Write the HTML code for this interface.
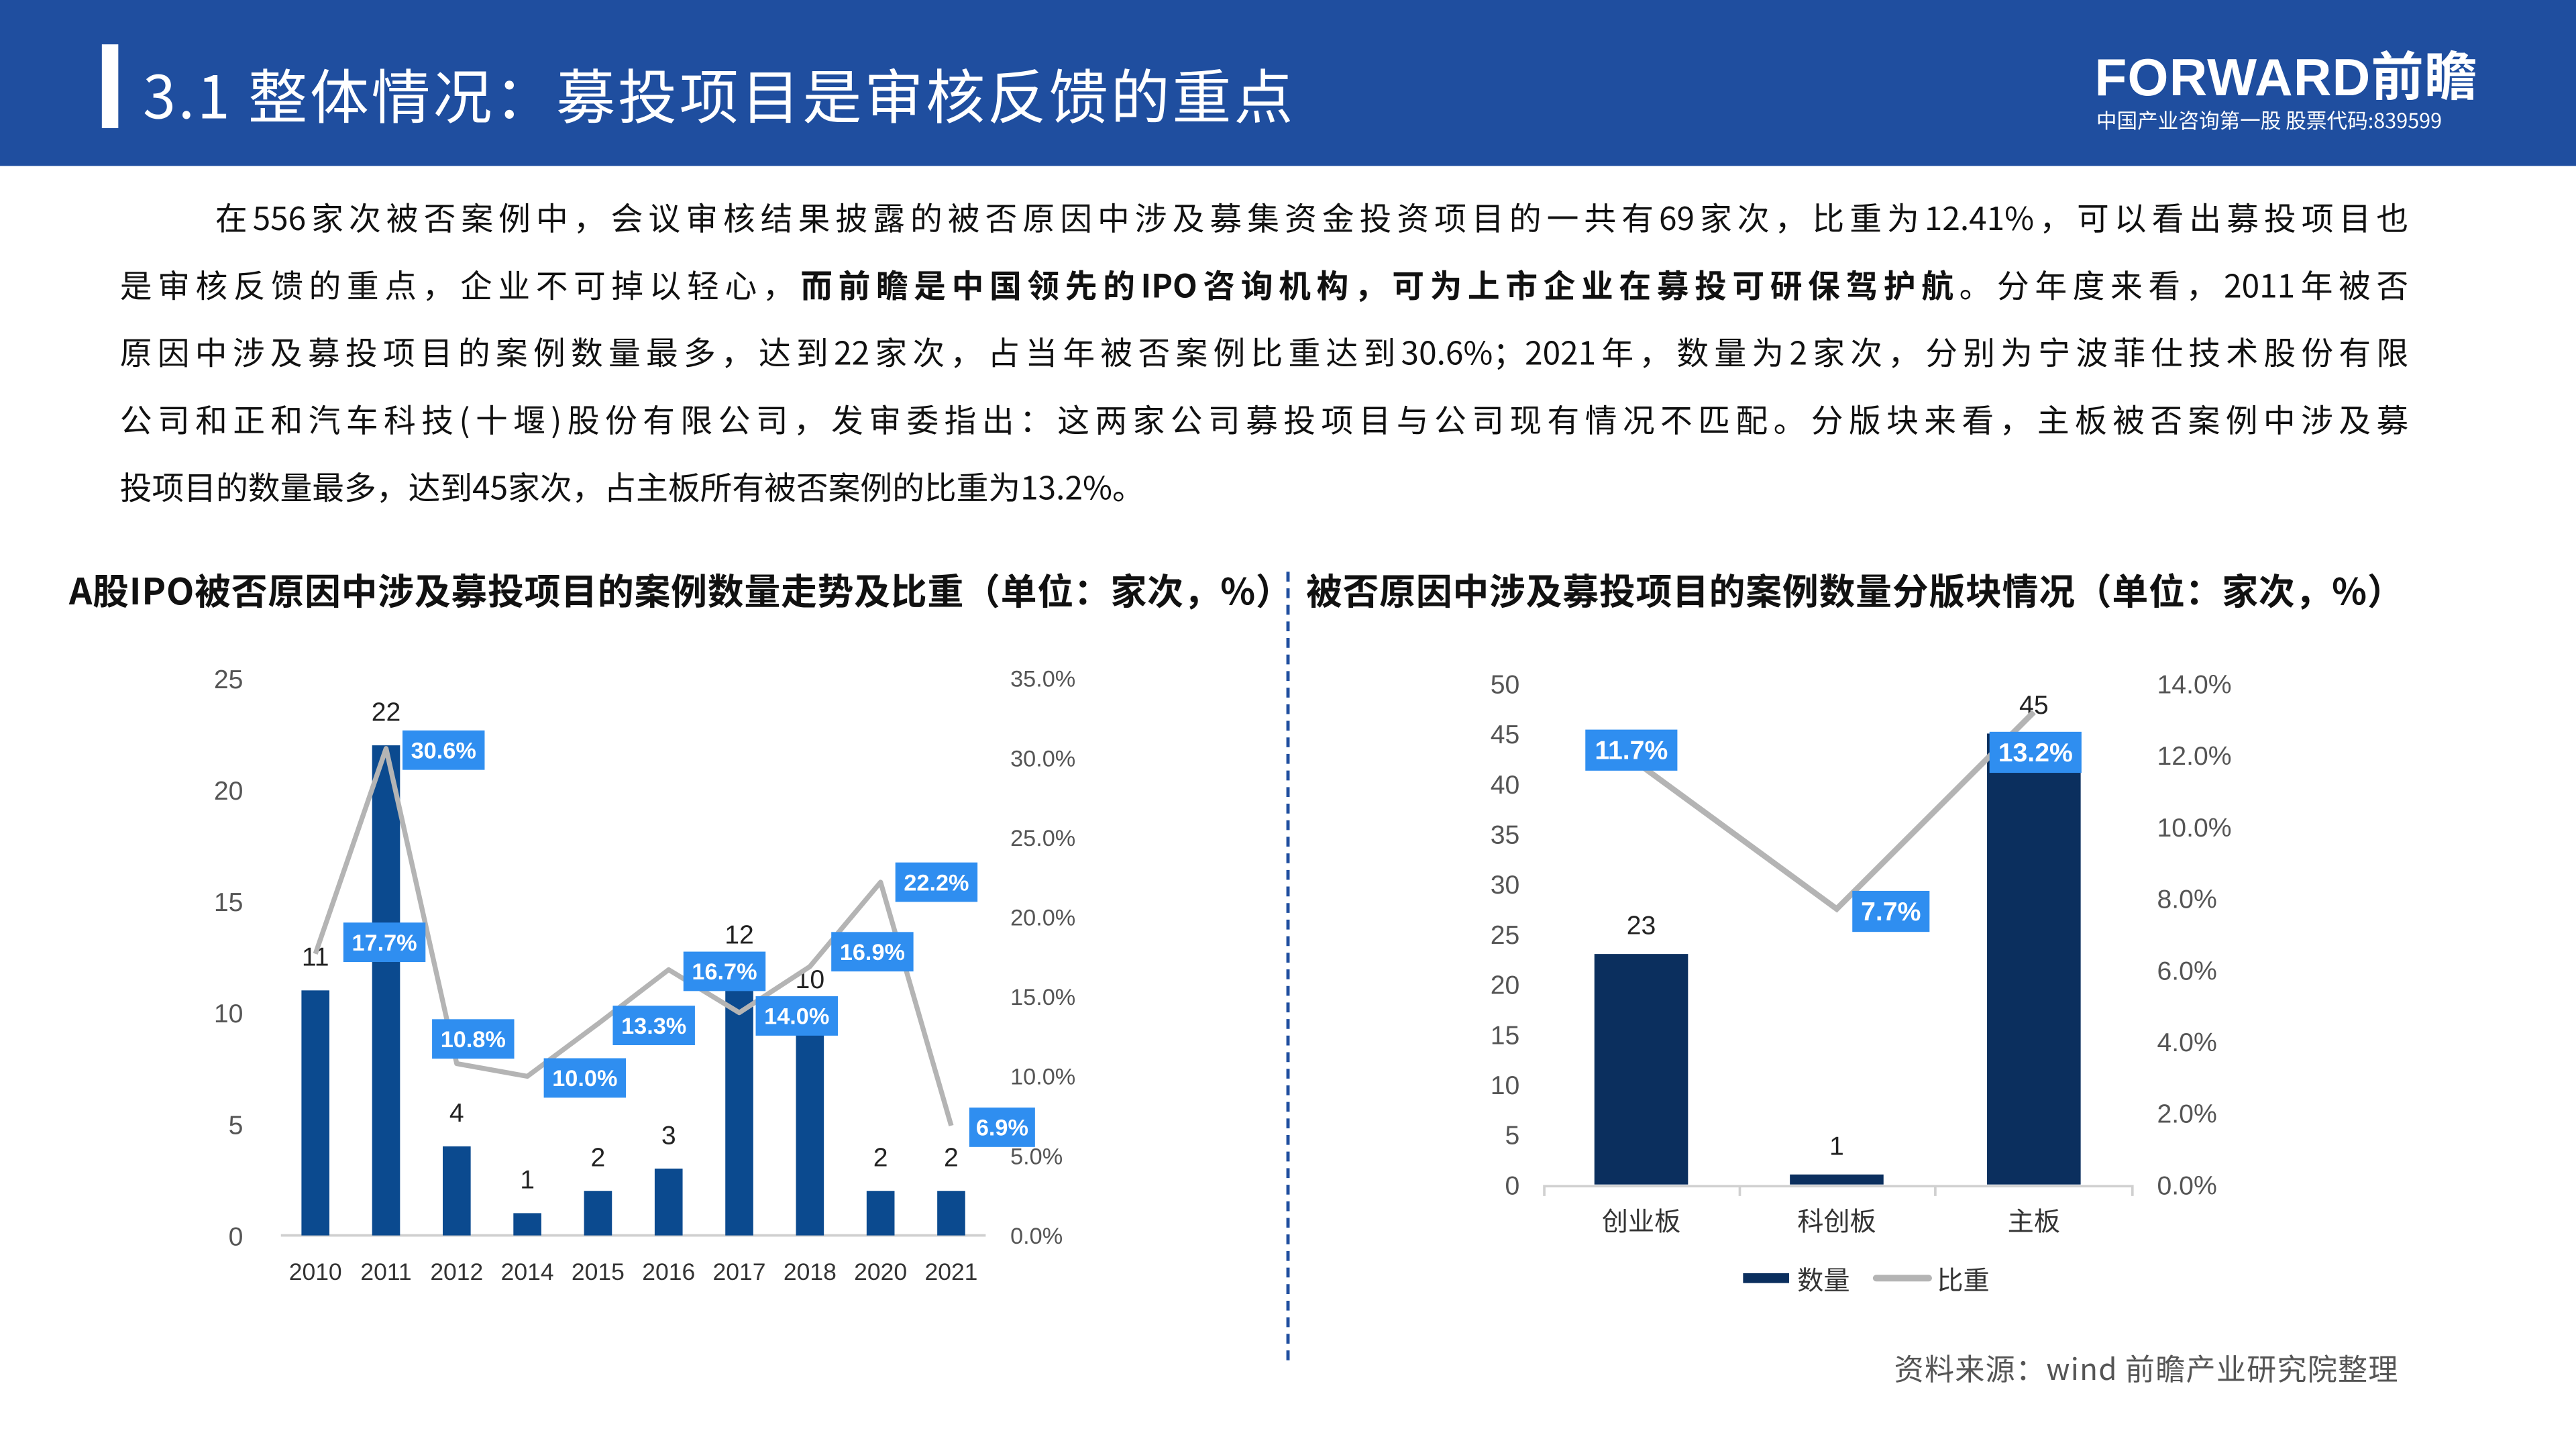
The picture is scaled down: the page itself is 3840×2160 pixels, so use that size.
<!DOCTYPE html>
<html><head><meta charset="utf-8">
<style>
html,body{margin:0;padding:0;width:3840px;height:2160px;overflow:hidden;background:#fff}
#stage{position:absolute;left:0;top:0;width:1568px;height:882px;transform:scale(2.44898);transform-origin:0 0;font-family:"Liberation Sans","Noto Sans CJK SC",sans-serif;color:#222}
.cjk{font-family:"Noto Sans CJK SC","Liberation Sans",sans-serif}
.hdr{position:absolute;left:0;top:0;width:1568px;height:101px;background:#1f4e9f}
.para{position:absolute;left:73px;top:111px;width:1393px;font-size:19.5px;line-height:41px;color:#111;font-family:"Noto Sans CJK SC","Liberation Sans",sans-serif}
.para div{text-align:justify;text-align-last:justify;height:41px;white-space:nowrap}
.ct{position:absolute;top:343px;font-size:22px;font-weight:bold;color:#111;white-space:nowrap;font-family:"Noto Sans CJK SC","Liberation Sans",sans-serif;letter-spacing:0.3px}
svg text{font-family:"Liberation Sans","Noto Sans CJK SC",sans-serif}
</style></head><body>
<div id="stage">
  <div class="hdr"></div>
  <div style="position:absolute;left:62px;top:27px;width:10px;height:51px;background:#fff"></div>
  <div class="cjk" style="position:absolute;left:87px;top:32px;font-size:36px;line-height:50px;color:#fff;letter-spacing:1.5px;white-space:nowrap">3.1 整体情况：募投项目是审核反馈的重点</div>
  <div style="position:absolute;left:1275px;top:28px;font-size:32px;font-weight:bold;color:#fff;letter-spacing:0.5px;white-space:nowrap;line-height:38px">FORWARD前瞻</div>
  <div class="cjk" style="position:absolute;left:1276px;top:64px;font-size:12.5px;line-height:18px;color:#fff;white-space:nowrap">中国产业咨询第一股 股票代码:839599</div>

  <div class="para">
    <div style="padding-left:58px">在556家次被否案例中，会议审核结果披露的被否原因中涉及募集资金投资项目的一共有69家次，比重为12.41%，可以看出募投项目也</div>
    <div>是审核反馈的重点，企业不可掉以轻心，<b>而前瞻是中国领先的IPO咨询机构，可为上市企业在募投可研保驾护航</b>。分年度来看，2011年被否</div>
    <div>原因中涉及募投项目的案例数量最多，达到22家次，占当年被否案例比重达到30.6%；2021年，数量为2家次，分别为宁波菲仕技术股份有限</div>
    <div>公司和正和汽车科技(十堰)股份有限公司，发审委指出：这两家公司募投项目与公司现有情况不匹配。分版块来看，主板被否案例中涉及募</div>
    <div style="text-align-last:left">投项目的数量最多，达到45家次，占主板所有被否案例的比重为13.2%。</div>
  </div>

  <div class="ct" style="left:42px">A股IPO被否原因中涉及募投项目的案例数量走势及比重（单位：家次，%）</div>
  <div class="ct" style="left:795px">被否原因中涉及募投项目的案例数量分版块情况（单位：家次，%）</div>
  <div style="position:absolute;left:783px;top:348px;height:480px;border-left:2px dashed #1f4e9f"></div>

  <svg id="c1" style="position:absolute;left:0;top:0" width="1568" height="882"></svg>
  <svg id="c2" style="position:absolute;left:0;top:0" width="1568" height="882"></svg>

  <div class="cjk" style="position:absolute;left:1153px;top:820px;font-size:18px;color:#555;white-space:nowrap;letter-spacing:0.5px">资料来源：wind 前瞻产业研究院整理</div>
</div>
<script>
const years=["2010","2011","2012","2014","2015","2016","2017","2018","2020","2021"];
const counts=[11,22,4,1,2,3,12,10,2,2];
const ratios=[17.7,30.6,10.8,10.0,13.3,16.7,14.0,16.9,22.2,6.9];
const leftTicks=[0,5,10,15,20,25];
const rightTicks=[0,5,10,15,20,25,30,35];
const boards=["创业板","科创板","主板"];
const boardCounts=[23,1,45];
const boardRatios=[11.7,7.7,13.2];
const bLeftTicks=[0,5,10,15,20,25,30,35,40,45,50];
const bRightTicks=[0,2,4,6,8,10,12,14];

const NS="http://www.w3.org/2000/svg";
function mk(svg,tag,attrs,txt){const e=document.createElementNS(NS,tag);for(const k in attrs)e.setAttribute(k,attrs[k]);if(txt!==undefined)e.textContent=txt;svg.appendChild(e);return e;}

// Left chart
(function(){
const s=document.getElementById('c1');
const y0=752,y1=413,x0=171,step=43,first=192;
const yL=v=>y0-(v/25)*(y0-y1);
const yR=v=>y0-(v/35)*(y0-y1);
const xc=i=>first+i*step;
leftTicks.forEach(t=>{const e=mk(s,'text',{x:148,y:yL(t)+6,'text-anchor':'end','font-size':16,fill:'#555'},t);});
rightTicks.forEach(t=>{const e=mk(s,'text',{x:615,y:yR(t)+5,'font-size':14,fill:'#555'},t.toFixed(1)+'%');});
const ax=mk(s,'line',{x1:x0,x2:600,y1:y0,y2:y0,stroke:'#d0d0d0','stroke-width':1.5});

counts.forEach((c,i)=>{
 const b=mk(s,'rect',{x:xc(i)-8.5,y:yL(c),width:17,height:y0-yL(c),fill:'#0b4a8f'});
 
 const t=mk(s,'text',{x:xc(i),y:yL(c)-15,'text-anchor':'middle','font-size':16,fill:'#222'},c);
 
 const xl=mk(s,'text',{x:xc(i),y:779,'text-anchor':'middle','font-size':14.5,fill:'#333'},years[i]);
 
});
const pts=ratios.map((r,i)=>xc(i)+','+yR(r)).join(' ');
const ln=mk(s,'polyline',{points:pts,fill:'none',stroke:'#b4b4b4','stroke-width':3,'stroke-linejoin':'round'});

const off=[[42,-7],[35,1],[10,-15],[35,1],[34,1],[34,1],[35,2],[38,-9],[34,0],[31,1]];
ratios.forEach((r,i)=>{
 const cx=xc(i)+off[i][0],cy=yR(r)+off[i][1];
 const g=mk(s,'g',{});
 const w=r<10?40:50;
 mk(g,'rect',{x:cx-w/2,y:cy-12,width:w,height:24,fill:'#2f8ef0'});
 mk(g,'text',{x:cx,y:cy+5,'text-anchor':'middle','font-size':14,'font-weight':'bold',fill:'#fff'},r.toFixed(1)+'%');
});
})();

// Right chart
(function(){
const s=document.getElementById('c2');
const y0=721,y1=416,cats=[999,1118,1238];
const yL=v=>y0-(v/50)*(y0-y1);
const yR=v=>y0-(v/14)*(y0-y1);
bLeftTicks.forEach(t=>{const e=mk(s,'text',{x:925,y:yL(t)+6,'text-anchor':'end','font-size':16,fill:'#555'},t);});
bRightTicks.forEach(t=>{const e=mk(s,'text',{x:1313,y:yR(t)+6,'font-size':16,fill:'#555'},t.toFixed(1)+'%');});
const ax=mk(s,'path',{d:'M940 728V722H1298V728M1059 722V728M1178 722V728',fill:'none',stroke:'#d0d0d0','stroke-width':1.5});

boardCounts.forEach((c,i)=>{
 const b=mk(s,'rect',{x:cats[i]-28.5,y:yL(c),width:57,height:y0-yL(c),fill:'#0b2f5e'});
 
 const t=mk(s,'text',{x:cats[i],y:yL(c)-12,'text-anchor':'middle','font-size':16,fill:'#222'},c);
 
 const xl=mk(s,'text',{x:cats[i],y:749,'text-anchor':'middle','font-size':16,fill:'#333'},boards[i]);
 
});
const ln=mk(s,'polyline',{points:boardRatios.map((r,i)=>cats[i]+','+yR(r)).join(' '),fill:'none',stroke:'#b4b4b4','stroke-width':3.5});

const off=[[-6,-10],[33,1],[1,24]];
boardRatios.forEach((r,i)=>{
 const cx=cats[i]+off[i][0],cy=yR(r)+off[i][1];
 const g=mk(s,'g',{});
 const w=r<10?47:56;
 mk(g,'rect',{x:cx-w/2,y:cy-12,width:w,height:25,fill:'#2f8ef0'});
 mk(g,'text',{x:cx,y:cy+6,'text-anchor':'middle','font-size':16,'font-weight':'bold',fill:'#fff'},r.toFixed(1)+'%');
});
const lg=mk(s,'g',{});
mk(lg,'rect',{x:1061,y:775,width:28,height:6,fill:'#0b2f5e'});
mk(lg,'text',{x:1094,y:785,'font-size':16,fill:'#333'},'数量');
mk(lg,'line',{x1:1142,x2:1174,y1:778,y2:778,stroke:'#b4b4b4','stroke-width':4,'stroke-linecap':'round'});
mk(lg,'text',{x:1179,y:785,'font-size':16,fill:'#333'},'比重');
})();
</script>
</body></html>
